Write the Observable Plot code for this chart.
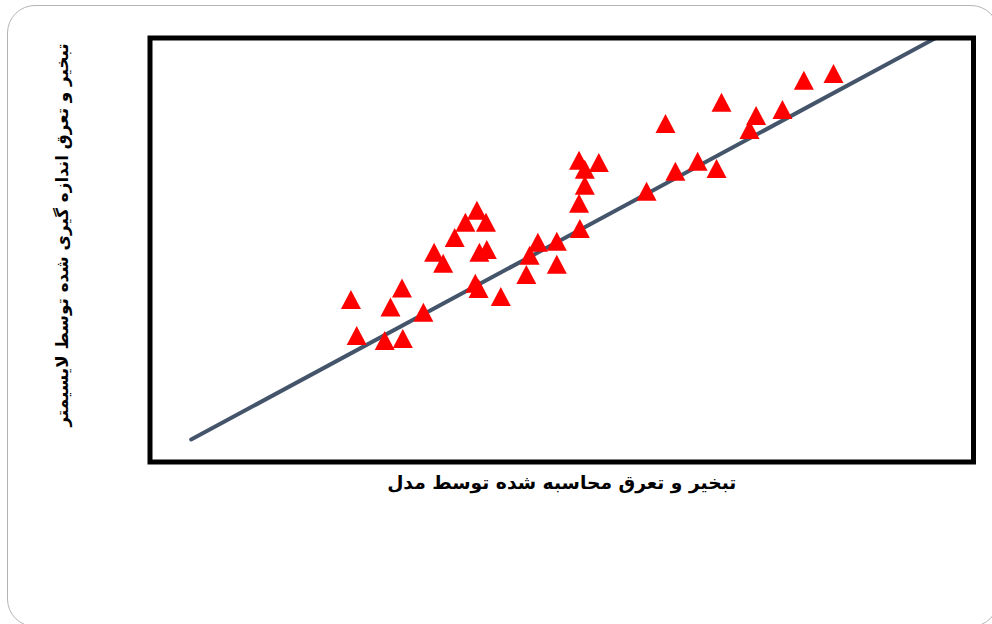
<!DOCTYPE html>
<html>
<head>
<meta charset="utf-8">
<script src="https://cdn.jsdelivr.net/npm/d3@7"></script>
<script src="https://cdn.jsdelivr.net/npm/@observablehq/plot@0.6"></script>
<style>
  html, body { margin: 0; padding: 0; background: #fff; overflow: hidden; }
  #wrap { position: relative; width: 992px; height: 624px; overflow: hidden; }
  #card { position: absolute; left: 7px; top: 5px; width: 992px; height: 622px;
          border: 1.5px solid #b4b4b4; border-radius: 28px; box-sizing: border-box; }
  #chart { position: absolute; left: 0; top: 0; }
</style>
</head>
<body>
<div id="wrap"><div id="card"></div><div id="chart"></div></div>
<script>
const modelET = [2.44, 3.06, 2.92, 2.51, 2.85, 3.07, 3.32, 3.45, 3.56, 3.70,
                 3.83, 3.97, 4.08, 4.00, 4.09, 3.95, 3.99, 4.26, 4.57, 4.61,
                 4.71, 4.94, 4.94, 5.22, 5.21, 5.28, 5.21, 5.28, 5.45, 6.03,
                 6.26, 6.38, 6.65, 6.88, 6.94, 7.36, 7.28, 7.68, 7.94, 8.30];
const lysimeterET = [3.76, 4.03, 3.58, 2.91, 2.79, 2.84, 3.46, 4.87, 4.61, 5.22,
                     5.58, 5.86, 5.58, 4.87, 4.94, 4.14, 4.02, 3.83, 4.35, 4.80,
                     5.11, 4.59, 5.13, 5.43, 6.03, 6.45, 7.04, 6.83, 6.99, 6.31,
                     7.91, 6.78, 7.02, 6.85, 8.41, 8.10, 7.77, 8.24, 8.93, 9.09];
// Fitted line end points
const fitX = [0.50, 9.54];
const fitY = [0.53, 10.0];
const xDomain = [0, 10];
const yDomain = [0, 10];
const xLabel = "تبخیر و تعرق محاسبه شده توسط مدل";
const yLabel = "تبخیر و تعرق اندازه گیری شده توسط لایسیمتر";

const points = modelET.map((x, i) => ({x, y: lysimeterET[i]}));
const fit = fitX.map((x, i) => ({x, y: fitY[i]}));

const tri = {
  draw(context, size) {
    const w = 20, h = 19;
    context.moveTo(0, -2 * h / 3);
    context.lineTo(w / 2, h / 3);
    context.lineTo(-w / 2, h / 3);
    context.closePath();
  }
};

const font = "'DejaVu Sans', sans-serif";
const chart = Plot.plot({
  width: 992,
  height: 624,
  marginLeft: 149.5,
  marginRight: 19,
  marginTop: 37.5,
  marginBottom: 162.5,
  style: {fontFamily: font, background: "transparent"},
  x: {domain: xDomain, axis: null},
  y: {domain: yDomain, axis: null},
  marks: [
    Plot.line(fit, {x: "x", y: "y", stroke: "#44546a", strokeWidth: 4, strokeLinecap: "round"}),
    Plot.dot(points, {x: "x", y: "y", symbol: tri, fill: "#ff0000", stroke: "none", r: 7.5}),
    Plot.frame({stroke: "#000", strokeWidth: 5}),
    Plot.text([xLabel], {text: d => d, frameAnchor: "bottom", dy: 27, fontSize: 18.7, fontWeight: "bold", fill: "#000", textAnchor: "middle"}),
    Plot.text([yLabel], {text: d => d, frameAnchor: "left", dx: -87.5, dy: -15, rotate: -90, fontSize: 16.8, fontWeight: "bold", fill: "#000", textAnchor: "middle"})
  ]
});
document.getElementById("chart").appendChild(chart);
</script>
</body>
</html>
